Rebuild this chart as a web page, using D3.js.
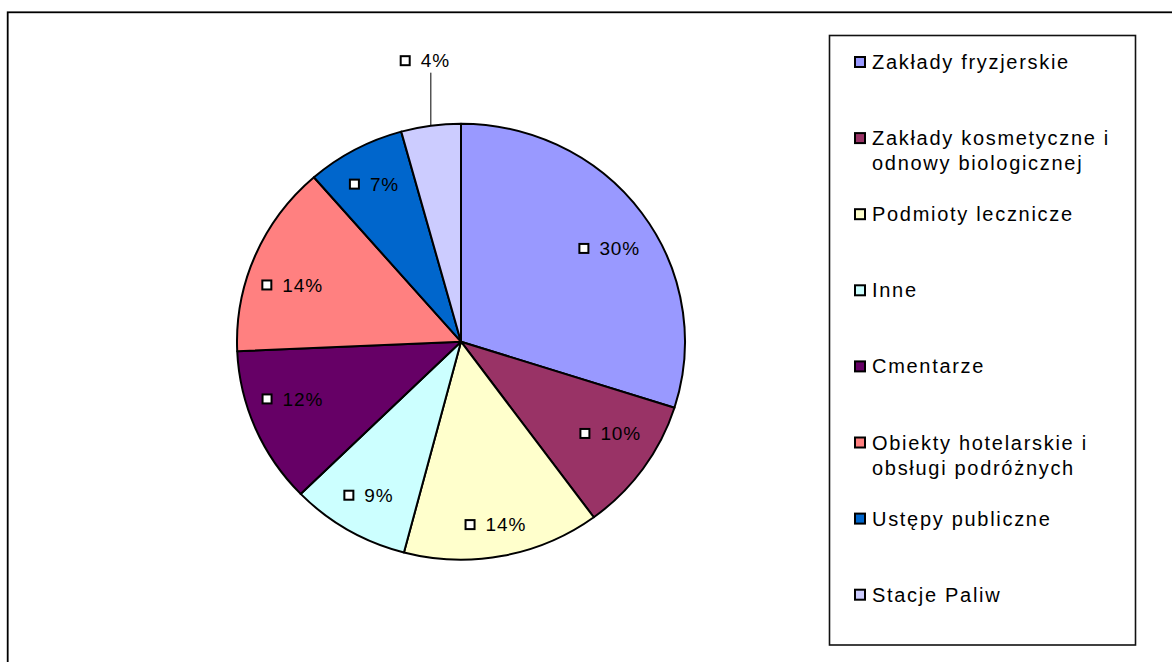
<!DOCTYPE html>
<html>
<head>
<meta charset="utf-8">
<script src="https://cdn.jsdelivr.net/npm/d3@7/dist/d3.min.js"></script>
<style>
  body { margin: 0; background: #fff; }
  svg  { display: block; font-family: "Liberation Sans", Arial, sans-serif; }
</style>
</head>
<body>
<svg id="chart" width="1172" height="662"></svg>
<script>
// ── Data ─────────────────────────────────────────────────────────────────────
const CATEGORIES = [
  "Zakłady fryzjerskie",
  "Zakłady kosmetyczne i odnowy biologicznej",
  "Podmioty lecznicze",
  "Inne",
  "Cmentarze",
  "Obiekty hotelarskie i obsługi podróżnych",
  "Ustępy publiczne",
  "Stacje Paliw",
];
// legend text as wrapped in the original
const LEGEND_LINES = [
  ["Zakłady fryzjerskie"],
  ["Zakłady kosmetyczne i", "odnowy biologicznej"],
  ["Podmioty lecznicze"],
  ["Inne"],
  ["Cmentarze"],
  ["Obiekty hotelarskie i", "obsługi podróżnych"],
  ["Ustępy publiczne"],
  ["Stacje Paliw"],
];
const SHARES = [29.9, 10.0, 14.2, 8.6, 11.6, 14.3, 7.1, 4.3];   // % of total
const COLORS = ["#9999FF", "#993366", "#FFFFCC", "#CCFFFF", "#660066", "#FF8080", "#0066CC", "#CCCCFF"];

// ── Layout ───────────────────────────────────────────────────────────────────
const CX = 461, CY = 341.7;
const RX = 224, RY = 218;          // the pie is drawn slightly squashed
const KY = RY / RX;

const svg = d3.select("#chart");

// outer chart frame (right / bottom edges fall outside the window)
svg.append("rect")
  .attr("x", 7.7).attr("y", 12.3)
  .attr("width", 1200).attr("height", 700)
  .attr("fill", "none").attr("stroke", "#000").attr("stroke-width", 1.8);

// ── Pie ──────────────────────────────────────────────────────────────────────
const pie  = d3.pie().sort(null).value(d => d);
const arcs = pie(SHARES);
const arc  = d3.arc().innerRadius(0).outerRadius(RX);

const pieG = svg.append("g")
  .attr("transform", `translate(${CX},${CY}) scale(1,${KY})`);

pieG.selectAll("path.slice")
  .data(arcs)
  .join("path")
  .attr("class", "slice")
  .attr("d", arc)
  .attr("fill", (d, i) => COLORS[i])
  .attr("stroke", "#000")
  .attr("stroke-width", 2)
  .attr("stroke-linejoin", "round")
  .attr("vector-effect", "non-scaling-stroke");

// ── Data labels ──────────────────────────────────────────────────────────────
const LBL_FONT = 19, LBL_LS = 0.9, BOX = 9, GAP = 10;
const labG = svg.append("g");

arcs.forEach((d, i) => {
  const txt = Math.round(d.data) + "%";
  const g = labG.append("g");
  const t = g.append("text")
    .attr("font-size", LBL_FONT)
    .attr("letter-spacing", LBL_LS)
    .attr("fill", "#000")
    .text(txt);
  const tw = t.node().getComputedTextLength();
  const w  = BOX + 2 + GAP + tw;
  const hw = w / 2;

  const mid = (d.startAngle + d.endAngle) / 2;
  const ux = Math.sin(mid), uy = -Math.cos(mid);
  let lx, ly;

  if (d.data >= 5) {
    // inside, near the rim; pulled towards the middle row for side slices
    lx = CX + ux * RX * 0.82;
    ly = CY + uy * RY * (0.53 + 0.33 * Math.abs(uy));
  } else {
    // small slice: label outside with a leader line
    const ax = CX + RX * ux, ay = CY + RY * uy;
    lx = ax - 6;
    ly = ay - 65;
    svg.append("line")
      .attr("x1", ax).attr("x2", ax)
      .attr("y1", ay).attr("y2", ly + 12)
      .attr("stroke", "#000").attr("stroke-width", 1);
  }

  const left = lx - hw;
  g.append("rect")
    .attr("x", left + 1).attr("y", ly - BOX / 2)
    .attr("width", BOX).attr("height", BOX)
    .attr("fill", "#fff").attr("stroke", "#000").attr("stroke-width", 2);
  t.attr("x", left + BOX + 2 + GAP).attr("y", ly + 6.8);
});

// ── Legend ───────────────────────────────────────────────────────────────────
const legG = svg.append("g");
legG.append("rect")
  .attr("x", 829.5).attr("y", 35.5)
  .attr("width", 306).attr("height", 609.5)
  .attr("fill", "#fff").attr("stroke", "#111").attr("stroke-width", 1.6);

const ROW0 = 69, ROW_STEP = 76.1, LINE_H = 25;
CATEGORIES.forEach((name, i) => {
  const base = ROW0 + i * ROW_STEP;
  const row = legG.append("g");
  row.append("rect")
    .attr("x", 855).attr("y", base - 12)
    .attr("width", 10).attr("height", 10)
    .attr("fill", COLORS[i]).attr("stroke", "#000").attr("stroke-width", 2);
  const text = row.append("text")
    .attr("font-size", 20)
    .attr("letter-spacing", 1.7)
    .attr("fill", "#000");
  LEGEND_LINES[i].forEach((ln, j) => {
    text.append("tspan")
      .attr("x", 872).attr("y", base + j * LINE_H)
      .text(ln);
  });
});
</script>
</body>
</html>
